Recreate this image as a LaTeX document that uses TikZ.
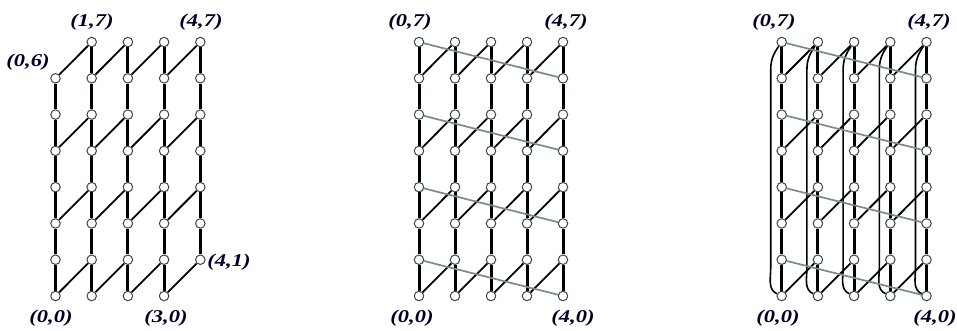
\documentclass[tikz,border=0pt]{standalone}
\usepackage{fontspec}
\setmainfont{Liberation Serif}
\pgfdeclarelayer{bg}
\pgfsetlayers{bg,main}
\definecolor{edgegray}{RGB}{120,140,140}
\definecolor{vxline}{RGB}{60,70,70}
\begin{document}
\begin{tikzpicture}[x=1pt,y=1pt,
  vx/.style={circle,draw=vxline,fill=white,line width=1pt,inner sep=0pt,minimum size=9.5pt},
  vert/.style={line width=3pt,black},
  diag/.style={line width=1.8pt,black},
  wrapg/.style={line width=1.7pt,edgegray},
  wrapc/.style={line width=1.6pt,black},
  lab/.style={font=\fontsize{18}{21}\selectfont\bfseries\itshape,inner sep=0pt,text=black!85!blue}]
\useasboundingbox (0,0) rectangle (957,330);
\newcommand{\lbl}[1]{\scalebox{1.25}[1]{#1}}
% ---------- figure 1 ----------
\foreach \i in {0,...,4}{
  \foreach \j in {0,...,7}{
    \pgfmathtruncatemacro{\skip}{(\i==0 && \j==7) || (\i==4 && \j==0)}
    \ifnum\skip=0
      \node[vx] (a-\i-\j) at ({55.5+36.2*\i},{34+36.28*\j}) {};
    \fi
  }
}
\begin{pgfonlayer}{bg}
  \foreach \j [evaluate=\j as \k using int(\j+1)] in {0,...,5} \draw[vert] (a-0-\j) -- (a-0-\k);
  \foreach \i in {1,2,3}{\foreach \j [evaluate=\j as \k using int(\j+1)] in {0,...,6} \draw[vert] (a-\i-\j) -- (a-\i-\k);}
  \foreach \j [evaluate=\j as \k using int(\j+1)] in {1,...,6} \draw[vert] (a-4-\j) -- (a-4-\k);
  \foreach \i [evaluate=\i as \ii using int(\i+1)] in {0,...,3}{
    \foreach \j [evaluate=\j as \k using int(\j+1)] in {0,2,4,6} \draw[diag] (a-\i-\j) -- (a-\ii-\k);}
\end{pgfonlayer}
\node[lab] (la17) at (92,308) {\lbl{(1,7)}};
\node[lab] (la47) at (201,308) {\lbl{(4,7)}};
\node[lab] (la06) at (28,268) {\lbl{(0,6)}};
\node[lab] (la00) at (51,11.5) {\lbl{(0,0)}};
\node[lab] (la30) at (166,11.5) {\lbl{(3,0)}};
\node[lab] (la41) at (229,68) {\lbl{(4,1)}};
% ---------- figure 2 ----------
\foreach \i in {0,...,4}{
  \foreach \j in {0,...,7}{
    \node[vx] (b-\i-\j) at ({419+36.0*\i},{34+36.28*\j}) {};
  }
}
\begin{pgfonlayer}{bg}
  \foreach \i in {0,...,4}{\foreach \j [evaluate=\j as \k using int(\j+1)] in {0,...,6} \draw[vert] (b-\i-\j) -- (b-\i-\k);}
  \foreach \i [evaluate=\i as \ii using int(\i+1)] in {0,...,3}{
    \foreach \j [evaluate=\j as \k using int(\j+1)] in {0,2,4,6} \draw[diag] (b-\i-\j) -- (b-\ii-\k);}
  \foreach \j [evaluate=\j as \k using int(\j-1)] in {1,3,5,7} \draw[wrapg] (b-0-\j) -- (b-4-\k);
\end{pgfonlayer}
\node[lab] (lb07) at (410,308) {\lbl{(0,7)}};
\node[lab] (lb47) at (566,308) {\lbl{(4,7)}};
\node[lab] (lb00) at (412,11.5) {\lbl{(0,0)}};
\node[lab] (lb40) at (573,11.5) {\lbl{(4,0)}};
% ---------- figure 3 ----------
\foreach \i in {0,...,4}{
  \foreach \j in {0,...,7}{
    \node[vx] (c-\i-\j) at ({781.7+36.2*\i},{34+36.28*\j}) {};
  }
}
\begin{pgfonlayer}{bg}
  \foreach \i in {0,...,4}{\foreach \j [evaluate=\j as \k using int(\j+1)] in {0,...,6} \draw[vert] (c-\i-\j) -- (c-\i-\k);}
  \foreach \i [evaluate=\i as \ii using int(\i+1)] in {0,...,3}{
    \foreach \j [evaluate=\j as \k using int(\j+1)] in {0,2,4,6} \draw[diag] (c-\i-\j) -- (c-\ii-\k);}
  \foreach \i in {0,...,4}{
    \draw[wrapc] (c-\i-7) to[out=235,in=90] ++(-11,-28) -- ++(0,-198) to[out=-90,in=155] (c-\i-0);}
  \foreach \j [evaluate=\j as \k using int(\j-1)] in {1,3,5,7} \draw[wrapg] (c-0-\j) -- (c-4-\k);
\end{pgfonlayer}
\node[lab] (lc07) at (774,308) {\lbl{(0,7)}};
\node[lab] (lc47) at (929,308) {\lbl{(4,7)}};
\node[lab] (lc00) at (778,11.5) {\lbl{(0,0)}};
\node[lab] (lc40) at (935,11.5) {\lbl{(4,0)}};
\end{tikzpicture}
\end{document}
